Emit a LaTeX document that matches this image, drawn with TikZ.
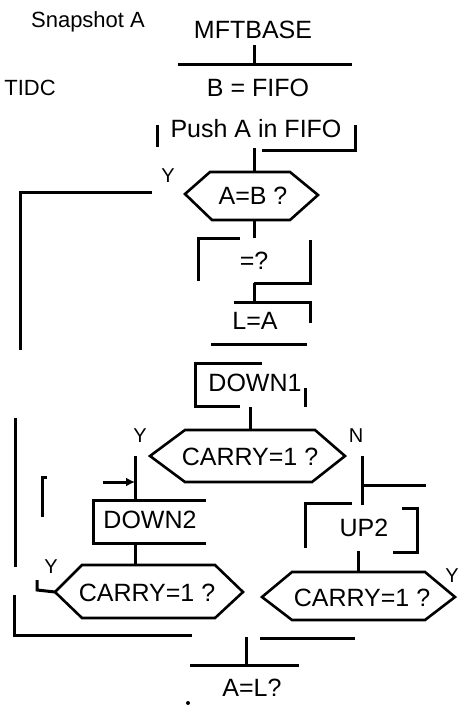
\documentclass[tikz,border=0pt]{standalone}
\usepackage{fontspec}
\setmainfont{Liberation Sans}
\usetikzlibrary{arrows.meta}
\begin{document}
\begin{tikzpicture}[x=1pt,y=-1pt,line width=3pt,
  txt/.style={inner sep=0pt,font=\fontsize{25}{27}\selectfont},
  lbl/.style={inner sep=0pt,font=\fontsize{20}{22}\selectfont},
  hexa/.style={line width=2.6pt,line join=miter}]
\useasboundingbox (0,0) rectangle (464,706);
% ---------- texts ----------
\node[txt,font=\fontsize{22}{24}\selectfont] (snap) at (88,22) {Snapshot A};
\node[txt] (title) at (253,30) {MFTBASE};
\node[txt,font=\fontsize{22}{24}\selectfont] (tidc) at (30,88) {TIDC};
\node[txt] (bfifo) at (258,88) {B = FIFO};
\node[txt] (push) at (256,129) {Push A in FIFO};
\node[txt] (ab) at (253,196) {A=B ?};
\node[txt] (eq) at (254,261) {=?};
\node[txt] (la) at (255,321) {L=A};
\node[txt] (down1) at (255,383) {DOWN1};
\node[txt] (c1) at (250,457) {CARRY=1 ?};
\node[txt] (down2) at (150,520) {DOWN2};
\node[txt] (up2) at (364,528) {UP2};
\node[txt] (c2) at (147,593) {CARRY=1 ?};
\node[txt] (c3) at (362,598) {CARRY=1 ?};
\node[txt] (al) at (252,688) {A=L?};
\node[lbl] (y1) at (168,176) {Y};
\node[lbl] (y2) at (140,436) {Y};
\node[lbl] (n2) at (356,436) {N};
\node[lbl] (y3) at (51,567) {Y};
\node[lbl] (y4) at (452,576) {Y};
% ---------- key coordinates ----------
\coordinate (t0) at (254,45);
\coordinate (t1) at (254,65);
\coordinate (p0) at (254,148);
\coordinate (h1t) at (254,172);
\coordinate (h1b) at (254,220);
\coordinate (h1l) at (185,194);
\coordinate (e0) at (254,238);
\coordinate (e1) at (254,283);
\coordinate (e2) at (254,302);
\coordinate (d1b) at (250,407);
\coordinate (h2t) at (250,430);
\coordinate (h2l) at (150,456);
\coordinate (h2r) at (345,456);
\coordinate (lb) at (135,456);
\coordinate (lb2) at (135,500);
\coordinate (rb) at (362,456);
\coordinate (rb2) at (362,505);
\coordinate (d2b) at (135,543);
\coordinate (h3t) at (135,565);
\coordinate (h3l) at (55,592);
\coordinate (u2b) at (358,551);
\coordinate (h4t) at (358,572);
\coordinate (m0) at (246,637);
\coordinate (m1) at (246,665);
% ---------- hexagons ----------
\draw[hexa] (185,194) -- (210,172) -- (290,172) -- (318,195) -- (290,220) -- (212,220) -- cycle;
\draw[hexa] (150,456) -- (185,430) -- (315,430) -- (345,456) -- (312,482) -- (185,482) -- cycle;
\draw[hexa] (55,592) -- (82,565) -- (215,565) -- (243,592) -- (215,618) -- (82,618) -- cycle;
\draw[hexa] (262,597) -- (292,572) -- (425,572) -- (455,597) -- (425,620) -- (292,620) -- cycle;
% ---------- box segments ----------
\draw (178,65) -- (352,65);                      % B = FIFO top
\draw (157,125) -- (157,147);                    % Push box left
\draw (262,150) -- (355,150) -- (355,125);       % Push box right/bottom
\draw (240,238) -- (198,238) -- (198,281);       % =? box
\draw (310,240) -- (310,283) -- (254,283);
\draw (234,302) -- (310,302) -- (310,323);       % L=A box
\draw (211,344) -- (307,344);
\draw (262,363) -- (195,363) -- (195,406) -- (240,406);   % DOWN1 box
\draw (305,388) -- (305,407);
\draw (206,500) -- (93,500) -- (93,543) -- (206,543);     % DOWN2 box
\draw (352,503) -- (305,503) -- (305,548);                % UP2 box
\draw (402,508) -- (417,508) -- (417,552) -- (393,552);
\draw (47,477) -- (42,477) -- (42,517);                   % bracket
% ---------- connectors ----------
\draw (t0) -- (t1);
\draw (p0) -- (h1t);
\draw (h1b) -- (e0);
\draw (e1) -- (e2);
\draw (d1b) -- (h2t);
\draw (lb) -- (lb2);
\draw (rb) -- (rb2);
\draw (rb |- 0,485) -- (426,485);
\draw[-{Latex[length=9pt,width=9pt]}] (103,482) -- (lb |- 0,482);
\draw (d2b) -- (h3t);
\draw (u2b) -- (h4t);
\draw (152,192) -- (20,192) -- (20,350);
\draw (15,418) -- (15,567);
\draw (h3l) -- (37,590) -- (37,580);
\draw (14,595) -- (14,635) -- (192,635);
\draw (260,638) -- (355,638);
\draw (m0) -- (m1);
\draw (190,665) -- (299,665);
\fill (188,703) circle (2pt);
\end{tikzpicture}
\end{document}
